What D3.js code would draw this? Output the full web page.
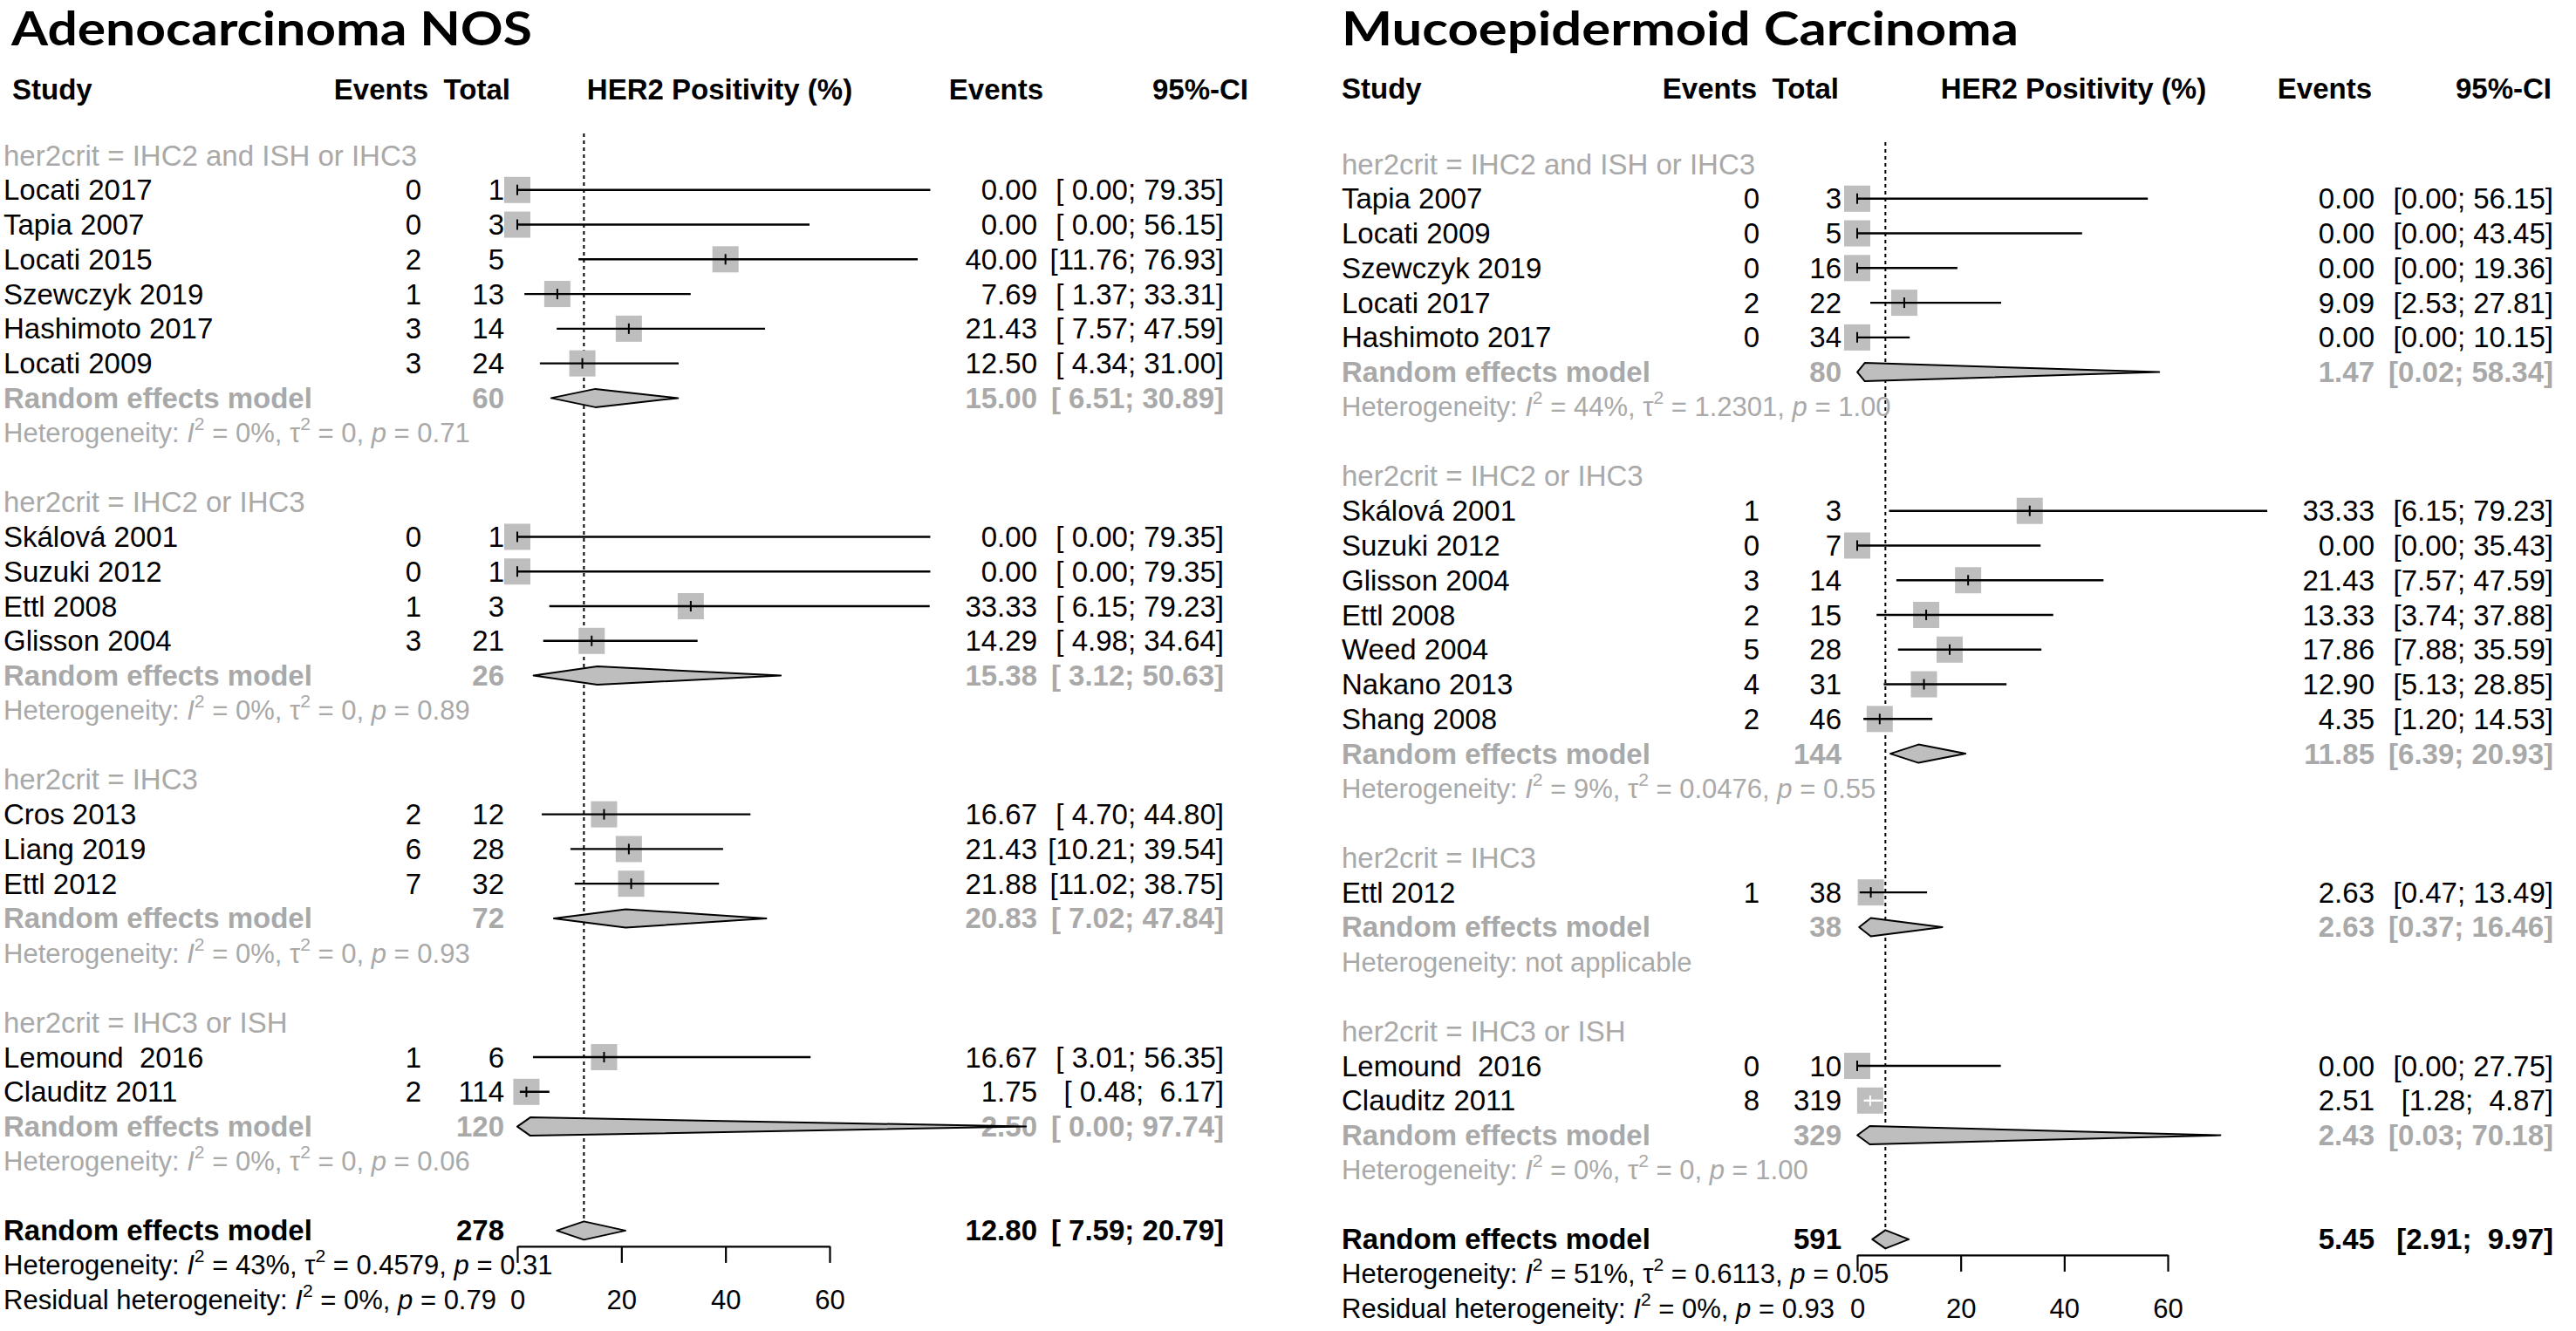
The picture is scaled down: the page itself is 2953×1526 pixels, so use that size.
<!DOCTYPE html>
<html>
<head>
<meta charset="utf-8">
<title>HER2 positivity by subgroup</title>
<script src="https://cdn.jsdelivr.net/npm/d3@7/dist/d3.min.js"></script>
<style>
  body { margin: 0; background: #fff; }
  text { font-family: "Liberation Sans", Arial, sans-serif; white-space: pre; }
</style>
</head>
<body>
<script>
// ---- Adenocarcinoma NOS: studies ----
var adenoStudy  = ["Locati 2017", "Tapia 2007", "Locati 2015", "Szewczyk 2019", "Hashimoto 2017", "Locati 2009",
                   "Skálová 2001", "Suzuki 2012", "Ettl 2008", "Glisson 2004",
                   "Cros 2013", "Liang 2019", "Ettl 2012",
                   "Lemound  2016", "Clauditz 2011"];
var adenoGroup  = [0, 0, 0, 0, 0, 0, 1, 1, 1, 1, 2, 2, 2, 3, 3];
var adenoEvents = [0, 0, 2, 1, 3, 3, 0, 0, 1, 3, 2, 6, 7, 1, 2];
var adenoTotal  = [1, 3, 5, 13, 14, 24, 1, 1, 3, 21, 12, 28, 32, 6, 114];
var adenoEst    = [0.00, 0.00, 40.00, 7.69, 21.43, 12.50, 0.00, 0.00, 33.33, 14.29, 16.67, 21.43, 21.88, 16.67, 1.75];
var adenoLower  = [0.00, 0.00, 11.76, 1.37, 7.57, 4.34, 0.00, 0.00, 6.15, 4.98, 4.70, 10.21, 11.02, 3.01, 0.48];
var adenoUpper  = [79.35, 56.15, 76.93, 33.31, 47.59, 31.00, 79.35, 79.35, 79.23, 34.64, 44.80, 39.54, 38.75, 56.35, 6.17];

// ---- Adenocarcinoma NOS: subgroups and overall ----
var adenoSubLabel = ["her2crit = IHC2 and ISH or IHC3", "her2crit = IHC2 or IHC3", "her2crit = IHC3", "her2crit = IHC3 or ISH"];
var adenoSubTotal = [60, 26, 72, 120];
var adenoSubEst   = [15.00, 15.38, 20.83, 2.50];
var adenoSubLower = [6.51, 3.12, 7.02, 0.00];
var adenoSubUpper = [30.89, 50.63, 47.84, 97.74];
var adenoSubHet   = [["0%", "0", "0.71"], ["0%", "0", "0.89"], ["0%", "0", "0.93"], ["0%", "0", "0.06"]];
var adenoOverall  = [278, 12.80, 7.59, 20.79];
var adenoHet      = ["43%", "0.4579", "0.31"];
var adenoResid    = ["0%", "0.79"];

// ---- Mucoepidermoid Carcinoma: studies ----
var mucoStudy  = ["Tapia 2007", "Locati 2009", "Szewczyk 2019", "Locati 2017", "Hashimoto 2017",
                  "Skálová 2001", "Suzuki 2012", "Glisson 2004", "Ettl 2008", "Weed 2004", "Nakano 2013", "Shang 2008",
                  "Ettl 2012",
                  "Lemound  2016", "Clauditz 2011"];
var mucoGroup  = [0, 0, 0, 0, 0, 1, 1, 1, 1, 1, 1, 1, 2, 3, 3];
var mucoEvents = [0, 0, 0, 2, 0, 1, 0, 3, 2, 5, 4, 2, 1, 0, 8];
var mucoTotal  = [3, 5, 16, 22, 34, 3, 7, 14, 15, 28, 31, 46, 38, 10, 319];
var mucoEst    = [0.00, 0.00, 0.00, 9.09, 0.00, 33.33, 0.00, 21.43, 13.33, 17.86, 12.90, 4.35, 2.63, 0.00, 2.51];
var mucoLower  = [0.00, 0.00, 0.00, 2.53, 0.00, 6.15, 0.00, 7.57, 3.74, 7.88, 5.13, 1.20, 0.47, 0.00, 1.28];
var mucoUpper  = [56.15, 43.45, 19.36, 27.81, 10.15, 79.23, 35.43, 47.59, 37.88, 35.59, 28.85, 14.53, 13.49, 27.75, 4.87];

// ---- Mucoepidermoid Carcinoma: subgroups and overall ----
var mucoSubLabel = ["her2crit = IHC2 and ISH or IHC3", "her2crit = IHC2 or IHC3", "her2crit = IHC3", "her2crit = IHC3 or ISH"];
var mucoSubTotal = [80, 144, 38, 329];
var mucoSubEst   = [1.47, 11.85, 2.63, 2.43];
var mucoSubLower = [0.02, 6.39, 0.37, 0.03];
var mucoSubUpper = [58.34, 20.93, 16.46, 70.18];
var mucoSubHet   = [["44%", "1.2301", "1.00"], ["9%", "0.0476", "0.55"], null, ["0%", "0", "1.00"]];
var mucoOverall  = [591, 5.45, 2.91, 9.97];
var mucoHet      = ["51%", "0.6113", "0.05"];
var mucoResid    = ["0%", "0.93"];

var axisTicks = [0, 20, 40, 60];

var GRAY_TEXT = "#a9a9a9", GRAY_FILL = "#bebebe";
var FS = 33, FS_HET = 31, ROW = 39.77;

var svg = d3.select("body").append("svg")
    .attr("width", 2953)
    .attr("height", 1526);

// text with italic / superscript pieces
function richText(g, x, y, parts, fill, size) {
  var t = g.append("text").attr("x", x).attr("y", y).attr("dy", "0.35em")
      .style("font-size", size + "px").attr("fill", fill);
  var shift = 0;
  parts.forEach(function (p) {
    var s = t.append("tspan").text(p.t);
    var want = p.sup ? -14 : 0;
    if (want !== shift) { s.attr("dy", want - shift); shift = want; }
    if (p.it) s.style("font-style", "italic");
    if (p.sup) s.style("font-size", (size * 0.68) + "px");
  });
}
function hetParts(h) {
  return [{t: "Heterogeneity: "}, {t: "I", it: true}, {t: "2", sup: true}, {t: " = " + h[0] + ", "},
          {t: "τ"}, {t: "2", sup: true}, {t: " = " + h[1] + ", "}, {t: "p", it: true}, {t: " = " + h[2]}];
}
function residParts(h) {
  return [{t: "Residual heterogeneity: "}, {t: "I", it: true}, {t: "2", sup: true}, {t: " = " + h[0] + ", "},
          {t: "p", it: true}, {t: " = " + h[1]}];
}

function drawPanel(P) {
  var g = svg.append("g");
  var x = d3.scaleLinear().domain([0, 60]).range(P.xr);
  var y = d3.scaleLinear().domain([0, 33]).range([P.y0, P.y0 + 33 * ROW]);

  var wl = d3.max(P.lower.concat(P.subLower, [P.overall[2]]), function (v) { return v.toFixed(2).length; });
  var wu = d3.max(P.upper.concat(P.subUpper, [P.overall[3]]), function (v) { return v.toFixed(2).length; });
  function ci(lo, hi) {
    return "[" + lo.toFixed(2).padStart(wl) + "; " + hi.toFixed(2).padStart(wu) + "]";
  }

  // title and header
  g.append("text").attr("x", P.titleX).attr("y", 52)
      .attr("textLength", P.titleW).attr("lengthAdjust", "spacingAndGlyphs")
      .style("font-family", "Lato, 'Open Sans', sans-serif").style("font-weight", 700)
      .style("font-size", "54px").text(P.title);
  var head = [["Study", P.studyHeadX, "start"], ["Events", P.evHead, "end"], ["Total", P.totHead, "end"],
              ["HER2 Positivity (%)", P.her2Head, "middle"], ["Events", P.estHead, "end"], ["95%-CI", P.ciHead, "end"]];
  g.selectAll(".head").data(head).enter().append("text")
      .attr("x", function (d) { return d[1]; }).attr("y", P.headY).attr("dy", "0.35em")
      .attr("text-anchor", function (d) { return d[2]; })
      .style("font-size", FS + "px").style("font-weight", 700).text(function (d) { return d[0]; });

  // row layout
  var rows = [], r = 0;
  for (var k = 0; k < P.subLabel.length; k++) {
    rows.push({type: "group", g: k, r: r++});
    P.group.forEach(function (gg, i) { if (gg === k) rows.push({type: "study", i: i, r: r++}); });
    rows.push({type: "sub", g: k, r: r++});
    rows.push({type: "subhet", g: k, r: r++});
    r++;
  }
  var overallRow = r;

  // reference line for the overall estimate
  g.append("line")
      .attr("x1", x(P.overall[1])).attr("x2", x(P.overall[1]))
      .attr("y1", y(0) - 25).attr("y2", y(overallRow))
      .attr("stroke", "#000").attr("stroke-width", 2).attr("stroke-dasharray", "4,4");

  function cell(txt, xx, rr, anchor, fill, bold) {
    g.append("text").attr("x", xx).attr("y", y(rr)).attr("dy", "0.35em")
        .attr("text-anchor", anchor).attr("fill", fill)
        .style("font-size", FS + "px").style("font-weight", bold ? 700 : 400).text(txt);
  }

  var half = 15;
  var diamondLine = d3.line().x(function (d) { return x(d[0]); }).y(function (d) { return d[1]; });
  function diamond(est, lo, hi, yc) {
    var h = 10.5;
    var pts = [[lo, yc], [est, yc - h], [hi, yc], [est, yc + h]];
    g.append("path").attr("d", diamondLine(pts) + "Z")
        .attr("fill", GRAY_FILL).attr("stroke", "#000").attr("stroke-width", 2).attr("stroke-linejoin", "round");
  }

  rows.forEach(function (row) {
    var yy = y(row.r);
    if (row.type === "group") {
      cell(P.subLabel[row.g], P.nameX, row.r, "start", GRAY_TEXT, false);
    } else if (row.type === "study") {
      var i = row.i;
      cell(P.study[i], P.nameX, row.r, "start", "#000", false);
      cell(String(P.events[i]), P.evX, row.r, "end", "#000", false);
      cell(String(P.total[i]), P.totX, row.r, "end", "#000", false);
      cell(P.est[i].toFixed(2), P.estX, row.r, "end", "#000", false);
      cell(ci(P.lower[i], P.upper[i]), P.ciX, row.r, "end", "#000", false);
      var cx = x(P.est[i]);
      g.append("rect").attr("x", cx - half).attr("y", yy - half)
          .attr("width", 2 * half).attr("height", 2 * half).attr("fill", GRAY_FILL);
      var inside = x(P.lower[i]) >= cx - half && x(P.upper[i]) <= cx + half;
      var col = inside ? "#fff" : "#000";
      g.append("line").attr("x1", x(P.lower[i])).attr("x2", x(P.upper[i]))
          .attr("y1", yy).attr("y2", yy).attr("stroke", col).attr("stroke-width", 2.4);
      g.append("line").attr("x1", cx).attr("x2", cx).attr("y1", yy - 6).attr("y2", yy + 6)
          .attr("stroke", col).attr("stroke-width", 2);
    } else if (row.type === "sub") {
      var k2 = row.g;
      cell("Random effects model", P.nameX, row.r, "start", GRAY_TEXT, true);
      cell(String(P.subTotal[k2]), P.totX, row.r, "end", GRAY_TEXT, true);
      cell(P.subEst[k2].toFixed(2), P.estX, row.r, "end", GRAY_TEXT, true);
      cell(ci(P.subLower[k2], P.subUpper[k2]), P.ciX, row.r, "end", GRAY_TEXT, true);
      diamond(P.subEst[k2], P.subLower[k2], P.subUpper[k2], yy);
    } else if (row.type === "subhet") {
      var h = P.subHet[row.g];
      richText(g, P.nameX, yy, h ? hetParts(h) : [{t: "Heterogeneity: not applicable"}], GRAY_TEXT, FS_HET);
    }
  });

  // overall
  cell("Random effects model", P.nameX, overallRow, "start", "#000", true);
  cell(String(P.overall[0]), P.totX, overallRow, "end", "#000", true);
  diamond(P.overall[1], P.overall[2], P.overall[3], y(overallRow));
  cell(P.overall[1].toFixed(2), P.estX, overallRow, "end", "#000", true);
  cell(ci(P.overall[2], P.overall[3]), P.ciX, overallRow, "end", "#000", true);

  // x axis
  var ax = g.append("g").attr("transform", "translate(0," + (y(overallRow) + 18) + ")")
      .call(d3.axisBottom(x).tickValues(axisTicks).tickSize(19).tickSizeOuter(0));
  ax.select(".domain").attr("stroke-width", 2.2);
  ax.selectAll(".tick line").attr("stroke-width", 2.2);
  ax.selectAll(".tick text").attr("y", y(overallRow + 2) - y(overallRow) - 18).attr("dy", "0.35em")
      .style("font-family", "'Liberation Sans', Arial, sans-serif").style("font-size", "31px").attr("fill", "#000");

  richText(g, P.nameX, y(overallRow + 1), hetParts(P.het), "#000", FS_HET);
  richText(g, P.nameX, y(overallRow + 2), residParts(P.resid), "#000", FS_HET);
}

drawPanel({
  title: "Adenocarcinoma NOS", titleX: 13, titleW: 597,
  study: adenoStudy, group: adenoGroup, events: adenoEvents, total: adenoTotal,
  est: adenoEst, lower: adenoLower, upper: adenoUpper,
  subLabel: adenoSubLabel, subTotal: adenoSubTotal, subEst: adenoSubEst,
  subLower: adenoSubLower, subUpper: adenoSubUpper, subHet: adenoSubHet,
  overall: adenoOverall, het: adenoHet, resid: adenoResid,
  xr: [593, 951], y0: 178, headY: 102,
  nameX: 4, studyHeadX: 14, evX: 483, evHead: 491, totX: 578, totHead: 585,
  her2Head: 825, estX: 1189, estHead: 1196, ciX: 1403, ciHead: 1431
});

drawPanel({
  title: "Mucoepidermoid Carcinoma", titleX: 1538, titleW: 776,
  study: mucoStudy, group: mucoGroup, events: mucoEvents, total: mucoTotal,
  est: mucoEst, lower: mucoLower, upper: mucoUpper,
  subLabel: mucoSubLabel, subTotal: mucoSubTotal, subEst: mucoSubEst,
  subLower: mucoSubLower, subUpper: mucoSubUpper, subHet: mucoSubHet,
  overall: mucoOverall, het: mucoHet, resid: mucoResid,
  xr: [2129, 2485], y0: 188, headY: 101,
  nameX: 1538, studyHeadX: 1538, evX: 2017, evHead: 2014, totX: 2111, totHead: 2108,
  her2Head: 2377, estX: 2722, estHead: 2719, ciX: 2927, ciHead: 2925
});
</script>
</body>
</html>
